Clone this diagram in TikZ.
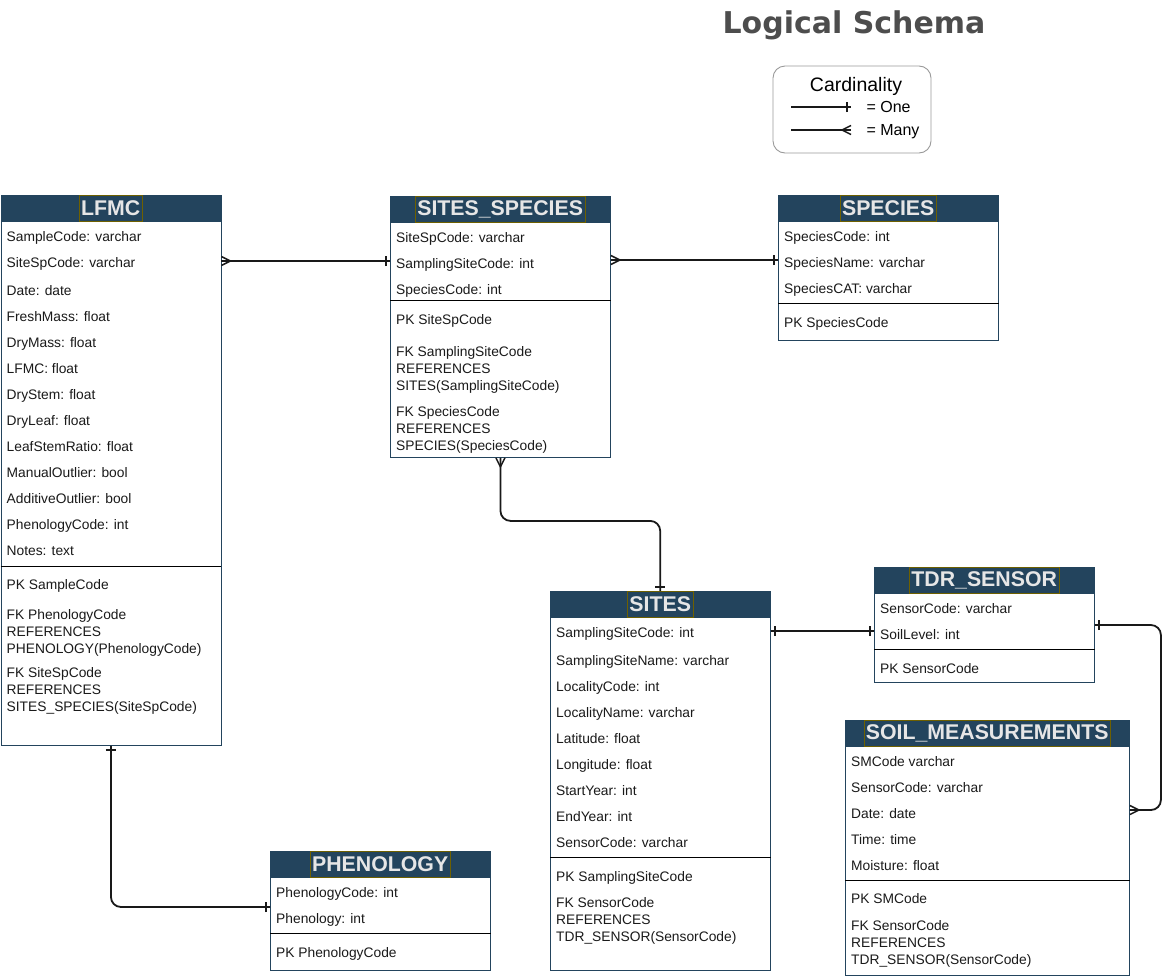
\documentclass[tikz,border=0pt]{standalone}
\usepackage{fontspec}
\setmainfont{Liberation Sans}
\newfontfamily\titlefont{DejaVu Sans}
\usepackage{tikz}
\usetikzlibrary{positioning,decorations.markings}
\definecolor{hdr}{HTML}{23445D}
\definecolor{hdrtext}{HTML}{E6E6E6}
\definecolor{hilite}{HTML}{6E6000}
\definecolor{ttl}{HTML}{4D4D4D}
\definecolor{txt}{HTML}{1A1A1A}
\definecolor{legend}{HTML}{999999}

\begin{document}
\begin{tikzpicture}[x=1pt,y=-1pt,
  font=\fontsize{13.8}{16}\selectfont,
  head/.style={draw=hdr,fill=hdr,anchor=north west,minimum height=26pt,inner sep=0pt},
  tname/.style={draw=hilite,fill=hdr,text=hdrtext,font=\fontsize{21.3}{24}\selectfont\bfseries,
                minimum height=26pt,inner xsep=2pt,inner ysep=0pt},
  body/.style={draw=hdr,fill=white,anchor=north west,inner sep=0pt,line width=0.9pt},
  attrs/.style={anchor=north west,align=left,inner sep=0pt,text=txt,font=\fontsize{13.8}{26}\selectfont},
  pkfk/.style={anchor=north west,align=left,inner sep=0pt,text=txt,font=\fontsize{13.8}{17}\selectfont},
  divider/.style={draw=black,line width=0.9pt},
  rel/.style={draw=black!90,line width=1.8pt,rounded corners=10pt},
  tip/.style={line width=1.5pt,sharp corners,miter limit=4},
  one start/.style={postaction={decorate,decoration={markings,
      mark=at position 4pt with {\draw[tip] (0pt,-5pt) -- (0pt,5pt);}}}},
  one end/.style={postaction={decorate,decoration={markings,
      mark=at position -4pt with {\draw[tip] (0pt,-5pt) -- (0pt,5pt);}}}},
  many start/.style={postaction={decorate,decoration={markings,
      mark=at position 0pt with {\draw[tip] (0pt,-4.5pt) -- (9pt,0pt) -- (0pt,4.5pt);}}}},
  many end/.style={postaction={decorate,decoration={markings,
      mark=at position 1 with {\draw[tip] (0pt,-4.5pt) -- (-9pt,0pt) -- (0pt,4.5pt);}}}},
  ]
  \useasboundingbox (0,0) rectangle (1170,977);

  % ---- title and legend ----
  \node[anchor=base,text=ttl,font=\fontsize{30}{36}\selectfont\titlefont\bfseries] (title) at (854,33) {Logical Schema};
  \node[draw=legend,line width=0.9pt,rounded corners=12pt,minimum width=158pt,minimum height=87pt] (legbox) at (852,109.5) {};
  \node[anchor=base,font=\fontsize{19.5}{22}\selectfont] (legtitle) at (856,91.5) {Cardinality};
  \coordinate (onea) at (791,107);
  \coordinate (oneb) at (851,107);
  \coordinate (manya) at (791,130);
  \coordinate (manyb) at (851,130);
  \draw[rel,line width=1.5pt,one end] (onea) -- (oneb);
  \draw[rel,line width=1.5pt,many end] (manya) -- (manyb);
  \node[anchor=base west,font=\fontsize{16}{19}\selectfont] (legone) at (863,112.5) {= One};
  \node[anchor=base west,font=\fontsize{16}{19}\selectfont] (legmany) at (863,135.5) {= Many};

  % ---- LFMC ----
  \node[body,minimum width=220pt,minimum height=524pt] (lfmc) at (0.5,221) {};
  \node[head,minimum width=220pt] (lfmch) at (0.5,195) {};
  \node[tname] (lfmct) at (lfmch) {LFMC};
  \node[attrs] (lfmca) at ([xshift=6pt,yshift=-10pt]lfmc.north west)
    {SampleCode: varchar\\SiteSpCode: varchar\\[2pt]Date: date\\FreshMass: float\\DryMass: float\\LFMC: float\\
     DryStem: float\\DryLeaf: float\\LeafStemRatio: float\\ManualOutlier: bool\\AdditiveOutlier: bool\\
     PhenologyCode: int\\Notes: text};
  \draw[divider] ([yshift=-345pt]lfmc.north west) -- ([yshift=-345pt]lfmc.north east);
  \node[pkfk] (lfmck) at ([xshift=6pt,yshift=-358pt]lfmc.north west)
    {PK SampleCode\\[13pt]FK PhenologyCode\\REFERENCES\\PHENOLOGY(PhenologyCode)\\[7pt]
     FK SiteSpCode\\REFERENCES\\SITES\_SPECIES(SiteSpCode)};

  % ---- SITES_SPECIES ----
  \node[body,minimum width=220pt,minimum height=235pt] (ss) at (390,222) {};
  \node[head,minimum width=220pt] (ssh) at (390,196) {};
  \node[tname] (sst) at (ssh) {SITES\_SPECIES};
  \node[attrs] (ssa) at ([xshift=6pt,yshift=-10pt]ss.north west)
    {SiteSpCode: varchar\\SamplingSiteCode: int\\SpeciesCode: int};
  \draw[divider] ([yshift=-78pt]ss.north west) -- ([yshift=-78pt]ss.north east);
  \node[pkfk] (ssk) at ([xshift=6pt,yshift=-92pt]ss.north west)
    {PK SiteSpCode\\[15pt]FK SamplingSiteCode\\REFERENCES\\SITES(SamplingSiteCode)\\[9pt]
     FK SpeciesCode\\REFERENCES\\SPECIES(SpeciesCode)};

  % ---- SPECIES ----
  \node[body,minimum width=220pt,minimum height=119pt] (sp) at (778,221) {};
  \node[head,minimum width=220pt] (sph) at (778,195) {};
  \node[tname] (spt) at (sph) {SPECIES};
  \node[attrs] (spa) at ([xshift=6pt,yshift=-10pt]sp.north west)
    {SpeciesCode: int\\SpeciesName: varchar\\SpeciesCAT: varchar};
  \draw[divider] ([yshift=-82pt]sp.north west) -- ([yshift=-82pt]sp.north east);
  \node[pkfk] (spk) at ([xshift=6pt,yshift=-96pt]sp.north west) {PK SpeciesCode};

  % ---- SITES ----
  \node[body,minimum width=220pt,minimum height=353pt] (sites) at (550,617) {};
  \node[head,minimum width=220pt] (sitesh) at (550,591) {};
  \node[tname] (sitest) at (sitesh) {SITES};
  \node[attrs] (sitesa) at ([xshift=6pt,yshift=-10pt]sites.north west)
    {SamplingSiteCode: int\\[2pt]SamplingSiteName: varchar\\LocalityCode: int\\LocalityName: varchar\\
     Latitude: float\\Longitude: float\\StartYear: int\\EndYear: int\\SensorCode: varchar};
  \draw[divider] ([yshift=-240pt]sites.north west) -- ([yshift=-240pt]sites.north east);
  \node[pkfk] (sitesk) at ([xshift=6pt,yshift=-254pt]sites.north west)
    {PK SamplingSiteCode\\[9pt]FK SensorCode\\REFERENCES\\TDR\_SENSOR(SensorCode)};

  % ---- TDR_SENSOR ----
  \node[body,minimum width=220pt,minimum height=89pt] (tdr) at (874,593) {};
  \node[head,minimum width=220pt] (tdrh) at (874,567) {};
  \node[tname] (tdrt) at (tdrh) {TDR\_SENSOR};
  \node[attrs] (tdra) at ([xshift=6pt,yshift=-10pt]tdr.north west)
    {SensorCode: varchar\\SoilLevel: int};
  \draw[divider] ([yshift=-56pt]tdr.north west) -- ([yshift=-56pt]tdr.north east);
  \node[pkfk] (tdrk) at ([xshift=6pt,yshift=-70pt]tdr.north west) {PK SensorCode};

  % ---- SOIL_MEASUREMENTS ----
  \node[body,minimum width=284pt,minimum height=229pt] (soil) at (845,746) {};
  \node[head,minimum width=284pt] (soilh) at (845,720) {};
  \node[tname] (soilt) at (soilh) {SOIL\_MEASUREMENTS};
  \node[attrs] (soila) at ([xshift=6pt,yshift=-10pt]soil.north west)
    {SMCode varchar\\SensorCode: varchar\\Date: date\\Time: time\\Moisture: float};
  \draw[divider] ([yshift=-134pt]soil.north west) -- ([yshift=-134pt]soil.north east);
  \node[pkfk] (soilk) at ([xshift=6pt,yshift=-147pt]soil.north west)
    {PK SMCode\\[10pt]FK SensorCode\\REFERENCES\\TDR\_SENSOR(SensorCode)};

  % ---- PHENOLOGY ----
  \node[body,minimum width=220pt,minimum height=93pt] (phen) at (270,877) {};
  \node[head,minimum width=220pt] (phenh) at (270,851) {};
  \node[tname] (phent) at (phenh) {PHENOLOGY};
  \node[attrs] (phena) at ([xshift=6pt,yshift=-10pt]phen.north west)
    {PhenologyCode: int\\Phenology: int};
  \draw[divider] ([yshift=-56pt]phen.north west) -- ([yshift=-56pt]phen.north east);
  \node[pkfk] (phenk) at ([xshift=6pt,yshift=-70pt]phen.north west) {PK PhenologyCode};

  % ---- relationships ----
  \draw[rel,many start,one end] ([yshift=-40pt]lfmc.north east) -- ([yshift=-39pt]ss.north west);
  \draw[rel,many start,one end] ([yshift=-38pt]ss.north east) -- ([yshift=-39pt]sp.north west);
  \draw[rel,many start,one end] (ss.south) -- ++(0,63) -| (sitesh.north);
  \draw[rel,one start,one end] ([yshift=-14pt]sites.north east) -- ([yshift=-38pt]tdr.north west);
  \draw[rel,one start,many end] ([yshift=-32pt]tdr.north east) -- ++(66,0) |- ([yshift=-64pt]soil.north east);
  \draw[rel,one start,one end] (lfmc.south) |- ([yshift=-30pt]phen.north west);
\end{tikzpicture}
\end{document}
